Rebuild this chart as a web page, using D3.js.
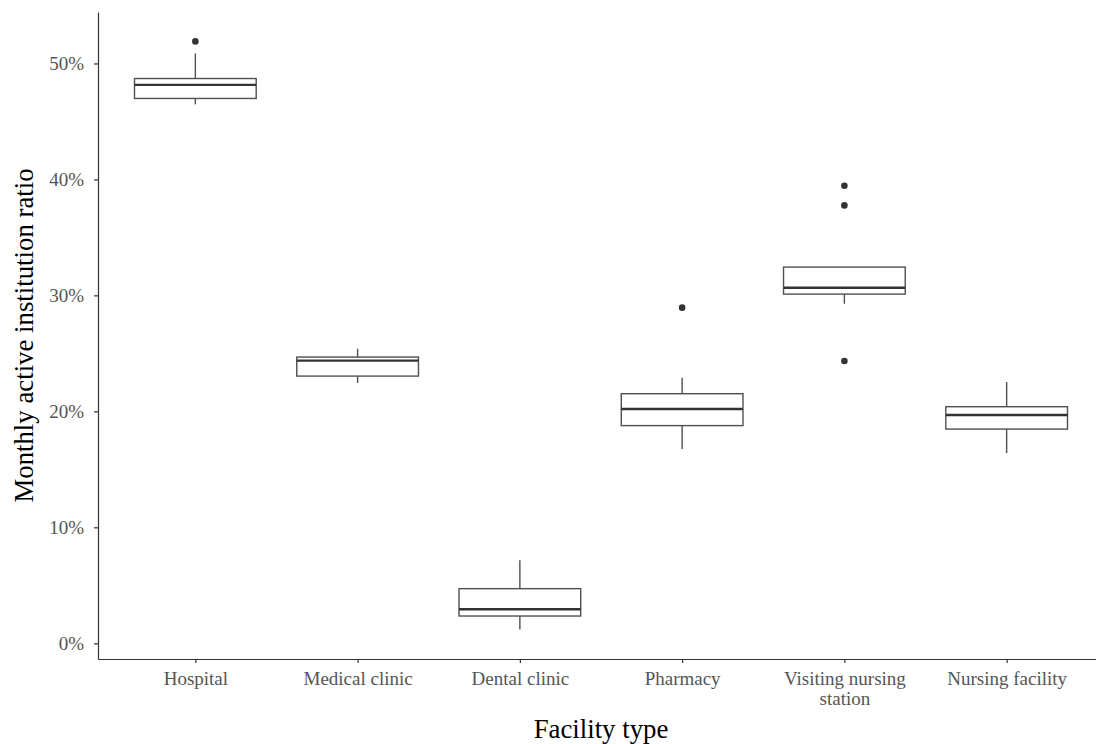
<!DOCTYPE html>
<html>
<head>
<meta charset="utf-8">
<script src="https://cdn.jsdelivr.net/npm/d3@7"></script>
<style>
  body { margin: 0; background: #fff; }
  svg { display: block; }
</style>
</head>
<body>
<div id="chart"></div>
<script>
const svgWidth = 1096;
const svgHeight = 744;

// Facility types and the box statistics (shares of institutions)
const categories = ['Hospital', 'Medical clinic', 'Dental clinic', 'Pharmacy', 'Visiting nursing station', 'Nursing facility'];
const tickLabels = [['Hospital'], ['Medical clinic'], ['Dental clinic'], ['Pharmacy'], ['Visiting nursing', 'station'], ['Nursing facility']];
const whiskerLow = [0.4647, 0.2245, 0.0118, 0.1675, 0.2928, 0.1640];
const q1 = [0.4698, 0.2304, 0.0235, 0.1877, 0.3011, 0.1847];
const median = [0.4815, 0.2437, 0.0293, 0.2020, 0.3066, 0.1968];
const q3 = [0.4870, 0.2468, 0.0471, 0.2152, 0.3244, 0.2040];
const whiskerHigh = [0.5086, 0.2540, 0.0716, 0.2290, 0.3244, 0.2253];
const outliers = [[0.5190], [], [], [0.2894], [0.3945, 0.3776, 0.2434], []];
const yTicks = [0, 0.1, 0.2, 0.3, 0.4, 0.5];

// Panel edges (right edge runs past the picture, like the original)
const margin = { top: 12, left: 98, bottom: 85, right: -8 };
const plotBottom = svgHeight - margin.bottom;
const plotRight = svgWidth - margin.right;

const svg = d3.select('#chart').append('svg').attr('width', svgWidth).attr('height', svgHeight);

const boxes = categories.map((c, i) => ({
  cat: c,
  lo: whiskerLow[i], q1: q1[i], med: median[i], q3: q3[i], hi: whiskerHigh[i],
  out: outliers[i],
}));

// ggplot-like 5% expansion of the data range
const allVals = boxes.flatMap(d => [d.lo, d.hi, ...d.out]);
const minV = d3.min(allVals);
const maxV = d3.max(allVals);
const pad = (maxV - minV) * 0.05;

const yScale = d3.scaleLinear().domain([minV - pad, maxV + pad]).range([plotBottom, margin.top]);
const xScale = d3.scalePoint().domain(categories).range([margin.left, plotRight]).padding(0.6);
const boxWidth = xScale.step() * 0.75;

const ink = '#333333';
const boxInk = '#505050';

// whiskers
svg.append('g')
  .selectAll('line')
  .data(boxes)
  .join('line')
  .attr('x1', d => xScale(d.cat))
  .attr('x2', d => xScale(d.cat))
  .attr('y1', d => yScale(d.lo))
  .attr('y2', d => yScale(d.hi))
  .attr('stroke', boxInk)
  .attr('stroke-width', 1.4);

// boxes
svg.append('g')
  .selectAll('rect')
  .data(boxes)
  .join('rect')
  .attr('x', d => xScale(d.cat) - boxWidth / 2)
  .attr('y', d => yScale(d.q3))
  .attr('width', boxWidth)
  .attr('height', d => yScale(d.q1) - yScale(d.q3))
  .attr('fill', '#fff')
  .attr('stroke', boxInk)
  .attr('stroke-width', 1.4);

// medians
svg.append('g')
  .selectAll('line')
  .data(boxes)
  .join('line')
  .attr('x1', d => xScale(d.cat) - boxWidth / 2)
  .attr('x2', d => xScale(d.cat) + boxWidth / 2)
  .attr('y1', d => yScale(d.med))
  .attr('y2', d => yScale(d.med))
  .attr('stroke', ink)
  .attr('stroke-width', 2.4);

// outliers
svg.append('g')
  .selectAll('circle')
  .data(boxes.flatMap(d => d.out.map(v => ({ cat: d.cat, v }))))
  .join('circle')
  .attr('cx', d => xScale(d.cat))
  .attr('cy', d => yScale(d.v))
  .attr('r', 3.3)
  .attr('fill', ink);

// axes
const xAxis = svg.append('g')
  .attr('transform', `translate(0,${plotBottom})`)
  .call(d3.axisBottom(xScale).tickSize(4).tickPadding(9).tickSizeOuter(0));

xAxis.selectAll('.tick text')
  .text(null)
  .each(function (d, i) {
    const t = d3.select(this);
    tickLabels[i].forEach((line, j) => {
      t.append('tspan').attr('x', 0).attr('dy', j === 0 ? '0.71em' : '1.05em').text(line);
    });
  });

const yAxis = svg.append('g')
  .attr('transform', `translate(${margin.left},0)`)
  .call(d3.axisLeft(yScale).tickValues(yTicks).tickFormat(d3.format('.0%')).tickSize(4).tickPadding(10).tickSizeOuter(0));

[xAxis, yAxis].forEach(a => {
  a.select('.domain').attr('stroke', ink).attr('stroke-width', 1.2);
  a.selectAll('.tick line').attr('stroke', ink).attr('stroke-width', 1.2);
  a.selectAll('.tick text')
    .attr('fill', '#555555')
    .style('font-family', '"Liberation Serif", serif')
    .style('font-size', '19px');
});

// axis titles
svg.append('text')
  .attr('x', (margin.left + plotRight) / 2)
  .attr('y', 738)
  .attr('text-anchor', 'middle')
  .style('font-family', '"Liberation Serif", serif')
  .style('font-size', '26.8px')
  .attr('fill', '#000')
  .text('Facility type');

svg.append('text')
  .attr('transform', 'rotate(-90)')
  .attr('x', -(margin.top + plotBottom) / 2)
  .attr('y', 33)
  .attr('text-anchor', 'middle')
  .style('font-family', '"Liberation Serif", serif')
  .style('font-size', '26.8px')
  .attr('fill', '#000')
  .text('Monthly active institution ratio');
</script>
</body>
</html>
